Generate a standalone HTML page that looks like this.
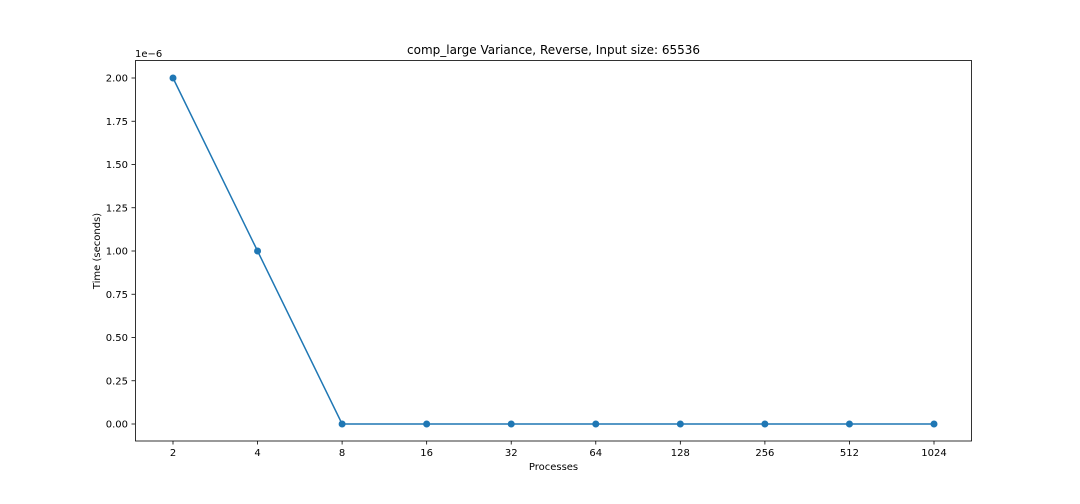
<!DOCTYPE html>
<html><head><meta charset="utf-8"><style>
body{margin:0;background:#fff}
svg{display:block;font-family:"DejaVu Sans","Liberation Sans",sans-serif}
</style></head><body>
<svg id="chart" width="1080" height="504">
<rect width="1080" height="504" fill="#fff"/>
<text x="553.5" y="54" text-anchor="middle" font-size="12">comp_large Variance, Reverse, Input size: 65536</text>
<text x="135" y="57" font-size="10">1e−6</text>
<g id="ticks"></g>
<polyline id="line" fill="none" stroke="#1f77b4" stroke-width="1.5"/>
<g id="pts"></g>
<rect x="135.5" y="60.5" width="836" height="380.5" fill="none" stroke="#000" stroke-width="0.8"/>
<text x="553.5" y="470" text-anchor="middle" font-size="10">Processes</text>
<text transform="translate(100,251) rotate(-90)" text-anchor="middle" font-size="10">Time (seconds)</text>
</svg>
<script>
const categories=["2","4","8","16","32","64","128","256","512","1024"];
const values=[2.0,1.0,0,0,0,0,0,0,0,0];
const yTicks=[0,0.25,0.5,0.75,1.0,1.25,1.5,1.75,2.0];
const yTickLabels=["0.00","0.25","0.50","0.75","1.00","1.25","1.50","1.75","2.00"];
const NS="http://www.w3.org/2000/svg";
function xs(i){return 173+i*(934-173)/(categories.length-1);}
function ys(v){return 424-v*(424-78)/2.0;}
const tg=document.getElementById('ticks');
function mk(tag,a){const e=document.createElementNS(NS,tag);for(const k in a)e.setAttribute(k,a[k]);return e;}
categories.forEach((c,i)=>{
 const l=mk('line',{x1:xs(i),x2:xs(i),y1:441,y2:444.5,stroke:'#000','stroke-width':0.8});
 
 
 tg.appendChild(l);
 const t=mk('text',{x:xs(i),y:456,'text-anchor':'middle','font-size':10});
 
 
 t.textContent=c;tg.appendChild(t);
});
yTicks.forEach((v,i)=>{
 const l=mk('line',{x1:131.5,x2:135,y1:ys(v),y2:ys(v),stroke:'#000','stroke-width':0.8});
 
 
 tg.appendChild(l);
 const t=mk('text',{x:128,y:ys(v)+3.5,'text-anchor':'end','font-size':10});
 
 
 t.textContent=yTickLabels[i];tg.appendChild(t);
});
document.getElementById('line').setAttribute('points',values.map((v,i)=>xs(i)+','+ys(v)).join(' '));
const pg=document.getElementById('pts');
values.forEach((v,i)=>{
 const c=mk('circle',{cx:xs(i),cy:ys(v),r:3.5,fill:'#1f77b4'});
 
 
 pg.appendChild(c);
});
</script>
</body></html>
